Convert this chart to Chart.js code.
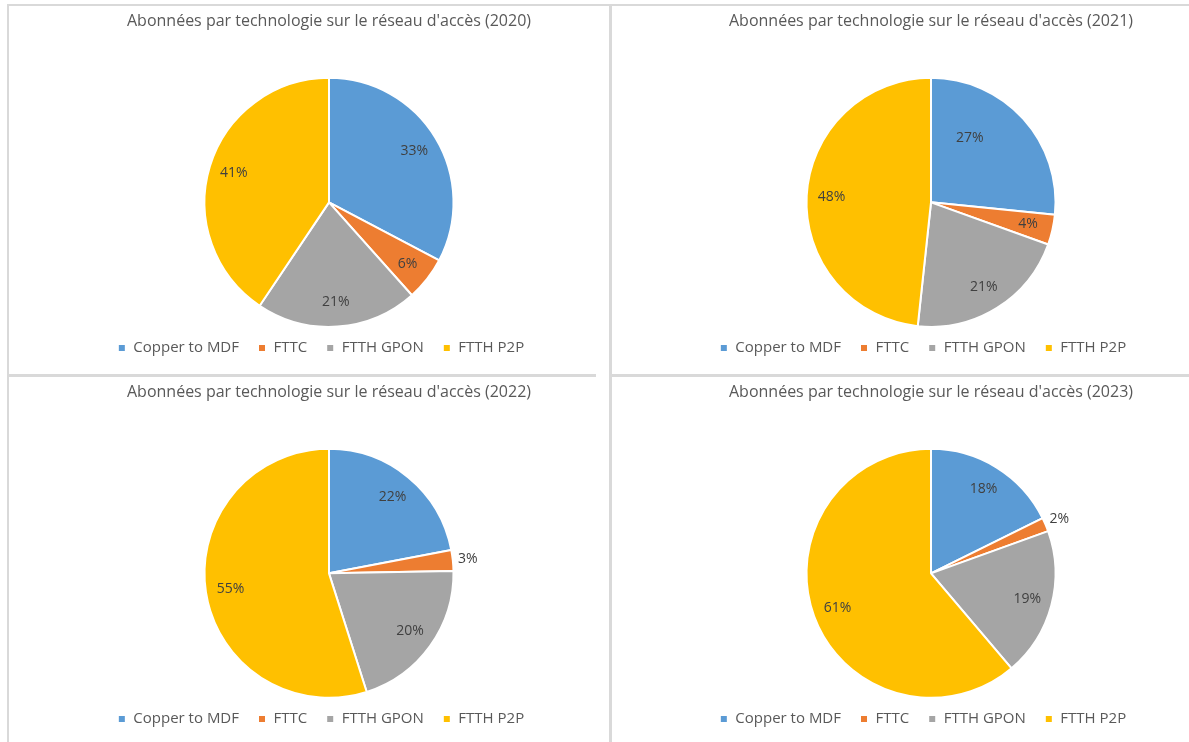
<!DOCTYPE html>
<html>
<head>
<meta charset="utf-8">
<script src="https://cdn.jsdelivr.net/npm/chart.js@4.4.0/dist/chart.umd.min.js"></script>
<style>
  body { margin: 0; background: #fff; width: 1189px; height: 742px; overflow: hidden; position: relative; font-family: "Open Sans", sans-serif; }
  .line { position: absolute; background: #d9d9d9; }
  .panel { position: absolute; width: 586px; height: 366px; }
  .panel canvas { display: block; }
</style>
</head>
<body>
<div class="line" style="left:7px; top:4px; width:1182px; height:2px;"></div>
<div class="line" style="left:7px; top:4px; width:2px; height:738px;"></div>
<div class="line" style="left:609px; top:4px; width:3px; height:738px;"></div>
<div class="line" style="left:7px; top:374px; width:589px; height:3px;"></div>
<div class="line" style="left:609px; top:374px; width:580px; height:3px;"></div>

<div class="panel" style="left:10px; top:7px;"><canvas id="pie2020"></canvas></div>
<div class="panel" style="left:612px; top:7px;"><canvas id="pie2021"></canvas></div>
<div class="panel" style="left:10px; top:378px;"><canvas id="pie2022"></canvas></div>
<div class="panel" style="left:612px; top:378px;"><canvas id="pie2023"></canvas></div>

<script>
let technologies = ['Copper to MDF', 'FTTC', 'FTTH GPON', 'FTTH P2P'];
let colors = ['#5b9bd5', '#ed7d31', '#a5a5a5', '#ffc000'];

let share2020 = [32.7, 5.7, 21.0, 40.6];
let share2021 = [26.6, 3.9, 21.2, 48.3];
let share2022 = [22.0, 2.7, 20.4, 54.9];
let share2023 = [17.7, 1.8, 19.3, 61.2];

let titleText = "Abonnées par technologie sur le réseau d'accès";

// petit decalage d'une etiquette (placement "best fit" d'Excel)
let labelNudge = { pie2021: { 0: [-35, 2] } };

// etiquettes en pourcentage sur les secteurs
let percentLabels = {
    id: 'percentLabels',
    afterLayout(chart){
        // la legende est un peu a gauche du camembert
        chart.legend.left -= 8;
        chart.legend.right -= 8;
    },
    afterDatasetsDraw(chart){
        let ctx = chart.ctx;
        let data = chart.data.datasets[0].data;
        let total = data.reduce((a, b) => a + b, 0);
        let meta = chart.getDatasetMeta(0);
        let nudge = labelNudge[chart.canvas.id] || {};
        ctx.save();
        ctx.font = '14px "Open Sans"';
        ctx.fillStyle = '#404040';
        ctx.textAlign = 'center';
        ctx.textBaseline = 'middle';
        meta.data.forEach(function(arc, i){
            let pct = data[i] / total * 100;
            let mid = (arc.startAngle + arc.endAngle) / 2;
            let r = pct < 3.5 ? arc.outerRadius + 15 : arc.outerRadius * 0.8;
            let x = arc.x + Math.cos(mid) * r;
            let y = arc.y + Math.sin(mid) * r;
            if (nudge[i]){
                x += nudge[i][0];
                y += nudge[i][1];
            }
            ctx.fillText(Math.round(pct) + '%', x, y);
        });
        ctx.restore();
    }
};

function createPie(id, values, year){
    let ctx = document.getElementById(id).getContext('2d');
    return new Chart(ctx, {
        type: 'pie',
        data: {
            labels: technologies,
            datasets: [{
                data: values,
                backgroundColor: colors,
                borderColor: '#ffffff',
                borderWidth: 2,
                radius: 124.5,
                clip: false
            }]
        },
        options: {
            responsive: true,
            maintainAspectRatio: false,
            animation: false,
            layout: { padding: { left: 52, right: 0, top: 0, bottom: 7.5 } },
            plugins: {
                title: {
                    display: true,
                    text: titleText + ' (' + year + ')',
                    color: '#595959',
                    font: { family: '"Open Sans"', size: 16, weight: 'normal' },
                    padding: { top: 5, bottom: 52 }
                },
                legend: {
                    position: 'bottom',
                    labels: {
                        boxWidth: 8,
                        boxHeight: 8,
                        padding: 19,
                        color: '#595959',
                        font: { family: '"Open Sans"', size: 15 }
                    }
                },
                tooltip: { enabled: false }
            }
        },
        plugins: [percentLabels]
    });
}

createPie('pie2020', share2020, 2020);
createPie('pie2021', share2021, 2021);
createPie('pie2022', share2022, 2022);
createPie('pie2023', share2023, 2023);
</script>
</body>
</html>
